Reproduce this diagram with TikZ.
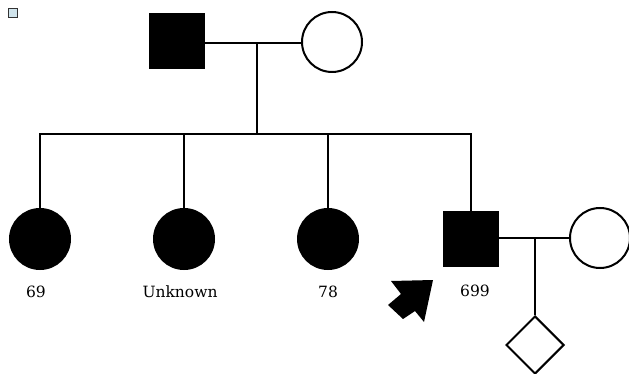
\documentclass[tikz,border=0pt]{standalone}
\usepackage{fontspec}
\setmainfont{DejaVu Serif}
\usetikzlibrary{shapes.geometric}
\begin{document}
\begin{tikzpicture}[x=1pt,y=-1pt,
  conn/.style={line width=2.8pt},
  male/.style={draw=black,fill=black,rectangle,minimum size=55pt,inner sep=0pt},
  female/.style={draw=black,line width=2pt,circle,minimum size=60pt,inner sep=0pt},
  affected/.style={fill=black},
  unknownsex/.style={draw=black,line width=2pt,diamond,minimum width=58pt,minimum height=58pt,inner sep=0pt},
  lab/.style={font=\fontsize{15.5pt}{18pt}\selectfont,inner sep=0pt}]
\useasboundingbox (0,0) rectangle (629,374);
% legend square
\node[draw=black!80,fill=cyan!15!white!85!gray,line width=1.2pt,rectangle,minimum size=9.5pt,inner sep=0pt] (leg) at (13,13) {};
% parents
\node[male] (f) at (177,41) {};
\node[female] (m) at (332,42) {};
\coordinate (mm) at (257,43);
\coordinate (sib) at (257,134);
\draw[conn] (f.east |- mm) -- (m.west |- mm);
\draw[conn] (mm) -- (sib);
% children
\node[female,affected] (c1) at (40,239) {};
\node[female,affected] (c2) at (184,239) {};
\node[female,affected] (c3) at (328,239) {};
\node[male] (c4) at (471,239) {};
\draw[conn] (c1.north) |- (c4.north |- sib) -- (c4.north);
\draw[conn] (c2.north) -- (c2.north |- sib);
\draw[conn] (c3.north) -- (c3.north |- sib);
% labels
\node[lab] (l1) at (36,292) {69};
\node[lab] (l2) at (180,292) {Unknown};
\node[lab] (l3) at (328,292) {78};
\node[lab] (l4) at (475,291) {699};
% spouse and child
\node[female] (sp) at (600,238) {};
\coordinate (mm2) at (535,238);
\draw[conn] (c4.east |- mm2) -- (sp.west |- mm2);
\node[unknownsex] (d) at (535,345) {};
\draw[conn] (mm2) -- (d.north);
% proband arrow
\fill[black] (391,281) -- (433,280) -- (424,322) -- (415,311) -- (403,319) -- (388,305) -- (401,294) -- cycle;
\end{tikzpicture}
\end{document}
